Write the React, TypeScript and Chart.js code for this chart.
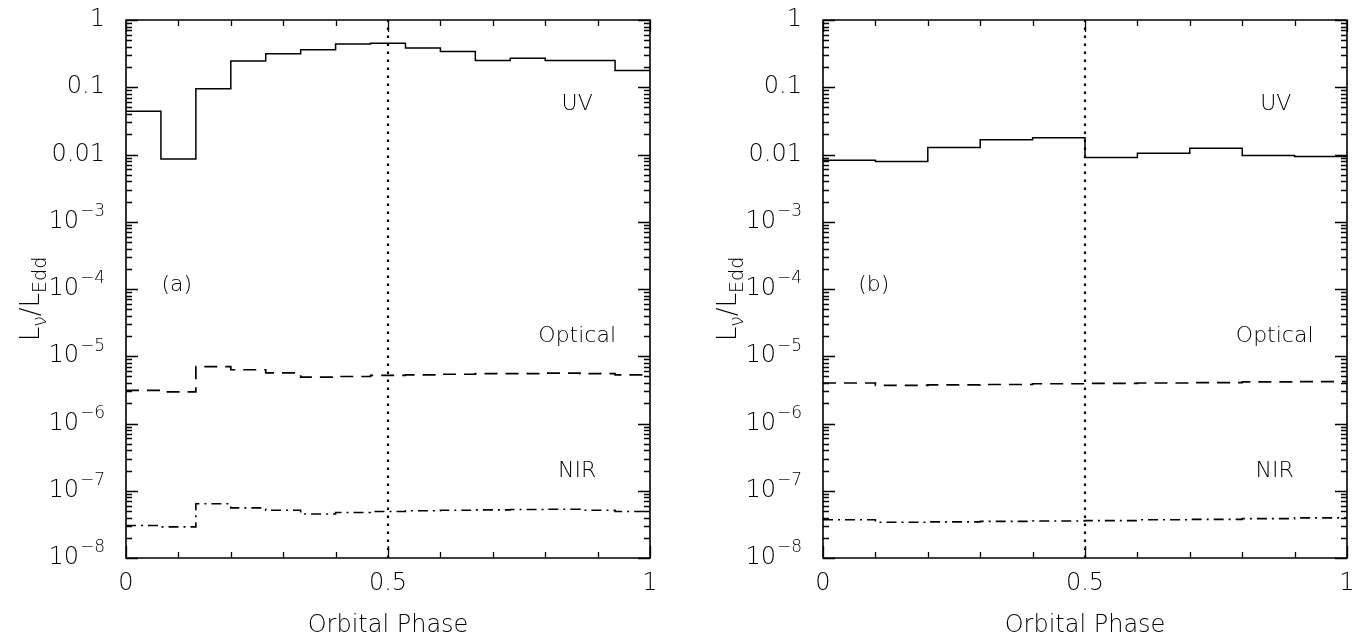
import React, { useEffect, useRef } from "react";
import { Chart, registerables } from "chart.js";

Chart.register(...registerables);

// ---------- data ----------
const binCountA = 15;
const binCountB = 10;

const uvA = [0.044, 0.0086, 0.095, 0.245, 0.315, 0.36, 0.44, 0.45, 0.385, 0.34, 0.25, 0.27, 0.25, 0.25, 0.178];
const opticalA = [3.1e-6, 2.95e-6, 7.0e-6, 6.3e-6, 5.65e-6, 4.9e-6, 5.0e-6, 5.2e-6, 5.3e-6, 5.4e-6, 5.5e-6, 5.5e-6, 5.6e-6, 5.5e-6, 5.3e-6];
const nirA = [3.05e-8, 2.9e-8, 6.4e-8, 5.57e-8, 5.14e-8, 4.5e-8, 4.75e-8, 4.92e-8, 5.03e-8, 5.14e-8, 5.2e-8, 5.26e-8, 5.3e-8, 5.14e-8, 4.92e-8];

const uvB = [0.0082, 0.0079, 0.0127, 0.0165, 0.0178, 0.009, 0.0104, 0.0124, 0.0097, 0.0093];
const opticalB = [4.0e-6, 3.7e-6, 3.75e-6, 3.8e-6, 3.9e-6, 3.95e-6, 4.0e-6, 4.05e-6, 4.15e-6, 4.2e-6];
const nirB = [3.7e-8, 3.4e-8, 3.45e-8, 3.5e-8, 3.55e-8, 3.6e-8, 3.7e-8, 3.75e-8, 3.85e-8, 3.95e-8];

const xTickValues = [0, 0.5, 1];
const xTickLabels = ["0", "0.5", "1"];
const xMinorTickValues = [0.1, 0.2, 0.3, 0.4, 0.6, 0.7, 0.8, 0.9];
const markerPhase = 0.5;

const yMin = 1e-8;
const yMax = 1;
const yTickValues = [1e-8, 1e-7, 1e-6, 1e-5, 1e-4, 1e-3, 0.01, 0.1, 1];
const yTickBases = ["10", "10", "10", "10", "10", "10", "0.01", "0.1", "1"];
const yTickExponents = ["\u22128", "\u22127", "\u22126", "\u22125", "\u22124", "\u22123", "", "", ""];

const bandLabels = ["UV", "Optical", "NIR"];
const panelTags = ["(a)", "(b)"];
const xTitle = "Orbital Phase";

// label anchor positions in data space (x phase, y value)
const bandLabelPosA = [
  { x: 0.861, y: 0.056 },
  { x: 0.861, y: 2.0e-5 },
  { x: 0.861, y: 1.97e-7 },
];
const bandLabelPosB = [
  { x: 0.864, y: 0.056 },
  { x: 0.862, y: 2.0e-5 },
  { x: 0.862, y: 1.97e-7 },
];
const tagPos = { x: 0.097, y: 1.15e-4 };

// ---------- styling ----------
const FONT = "'DejaVu Sans', sans-serif";
const WEIGHT = "300";
const FS = 22;
const FS_TICK = 24;
const FS_EXP = 17;
const FS_YT = 26;
const FS_YT_SUB = 19;

function binEdges(n: number): number[] {
  const e: number[] = [];
  for (let i = 0; i <= n; i++) e.push(i / n);
  return e;
}

function stepPoints(edges: number[], vals: number[]) {
  const pts = vals.map((v, i) => ({ x: edges[i], y: v }));
  pts.push({ x: edges[vals.length], y: vals[vals.length - 1] });
  return pts;
}

const framePlugin = {
  id: "frameTicks",
  afterDatasetsDraw(chart: any) {
    const { ctx, chartArea: a, scales } = chart;
    const xs = scales.x;
    const ys = scales.y;
    ctx.save();
    ctx.strokeStyle = "#000";
    ctx.lineWidth = 1.6;
    ctx.beginPath();
    ctx.rect(a.left, a.top, a.right - a.left, a.bottom - a.top);
    ctx.stroke();
    ctx.lineWidth = 1.3;
    ctx.beginPath();
    const major = 12;
    const minor = 6;
    const xt = [...xTickValues.map((v) => [v, major]), ...xMinorTickValues.map((v) => [v, minor])];
    for (const [v, len] of xt) {
      const px = Math.round(xs.getPixelForValue(v)) + 0.5;
      ctx.moveTo(px, a.bottom);
      ctx.lineTo(px, a.bottom - len);
      ctx.moveTo(px, a.top);
      ctx.lineTo(px, a.top + len);
    }
    for (let d = -8; d <= 0; d++) {
      for (let m = 1; m <= 9; m++) {
        const v = m * Math.pow(10, d);
        if (v > yMax * 1.0001) break;
        const py = Math.round(ys.getPixelForValue(v)) + 0.5;
        const len = m === 1 ? major : minor;
        ctx.moveTo(a.left, py);
        ctx.lineTo(a.left + len, py);
        ctx.moveTo(a.right, py);
        ctx.lineTo(a.right - len, py);
      }
    }
    ctx.stroke();
    ctx.restore();
  },
};

function makeTextPlugin(titleBaselineX: number, bandPos: { x: number; y: number }[], tag: string) {
  return {
    id: "texts",
    afterDraw(chart: any) {
      const { ctx, chartArea: a, scales } = chart;
      const xs = scales.x;
      const ys = scales.y;
      ctx.save();
      ctx.fillStyle = "#000";
      const big = `${WEIGHT} ${FS}px ${FONT}`;
      const tickF = `${WEIGHT} ${FS_TICK}px ${FONT}`;
      const expF = `${WEIGHT} ${FS_EXP}px ${FONT}`;
      // y tick labels
      ctx.textBaseline = "middle";
      ctx.textAlign = "left";
      const rightEdge = a.left - 21;
      yTickValues.forEach((v, i) => {
        const py = ys.getPixelForValue(v);
        const base = yTickBases[i];
        const exp = yTickExponents[i];
        ctx.font = tickF;
        const wb = ctx.measureText(base).width;
        ctx.font = expF;
        const we = exp ? ctx.measureText(exp).width + 1 : 0;
        const start = rightEdge - wb - we;
        ctx.font = tickF;
        ctx.fillText(base, start, py);
        if (exp) {
          ctx.font = expF;
          ctx.fillText(exp, start + wb + 1, py - 10);
        }
      });
      // band labels
      ctx.textAlign = "center";
      ctx.font = big;
      bandLabels.forEach((t, i) => {
        ctx.fillText(t, xs.getPixelForValue(bandPos[i].x), ys.getPixelForValue(bandPos[i].y));
      });
      ctx.fillText(tag, xs.getPixelForValue(tagPos.x), ys.getPixelForValue(tagPos.y));
      // y title L_nu / L_Edd rotated
      const cy = (a.top + a.bottom) / 2 + 10;
      ctx.translate(titleBaselineX, cy);
      ctx.rotate(-Math.PI / 2);
      ctx.textAlign = "left";
      ctx.textBaseline = "alphabetic";
      const yt = `${WEIGHT} ${FS_YT}px ${FONT}`;
      const ytSub = `${WEIGHT} ${FS_YT_SUB}px ${FONT}`;
      const parts: [string, boolean][] = [["L", false], ["\u03BD", true], ["/", false], ["L", false], ["Edd", true]];
      let total = 0;
      const widths = parts.map(([t, sub]) => {
        ctx.font = sub ? ytSub : yt;
        const w = ctx.measureText(t).width;
        total += w;
        return w;
      });
      let u = -total / 2;
      parts.forEach(([t, sub], i) => {
        ctx.font = sub ? ytSub : yt;
        ctx.fillText(t, u, sub ? 7 : 0);
        u += widths[i];
      });
      ctx.restore();
    },
  };
}

function buildChart(
  canvas: HTMLCanvasElement,
  bins: number,
  uv: number[],
  optical: number[],
  nir: number[],
  axisWidth: number,
  rightPad: number,
  titleX: number,
  bandPos: { x: number; y: number }[],
  tag: string
) {
  const edges = binEdges(bins);
  const base = { borderColor: "#000", pointRadius: 0, fill: false, tension: 0 };
  return new Chart(canvas, {
    type: "line",
    data: {
      datasets: [
        { ...base, label: bandLabels[0], data: stepPoints(edges, uv), stepped: true, borderWidth: 1.5 },
        { ...base, label: bandLabels[1], data: stepPoints(edges, optical), stepped: true, borderWidth: 1.7, borderDash: [13, 8] },
        { ...base, label: bandLabels[2], data: stepPoints(edges, nir), stepped: true, borderWidth: 1.6, borderDash: [10, 5, 2, 5] },
        {
          ...base,
          label: "phase",
          data: [
            { x: markerPhase, y: yMin },
            { x: markerPhase, y: yMax },
          ],
          borderWidth: 2.2,
          borderDash: [2.5, 5.5],
        },
      ],
    } as any,
    options: {
      responsive: false,
      animation: false,
      devicePixelRatio: 1,
      layout: { padding: { top: 20, right: rightPad, left: 0, bottom: 0 } },
      plugins: { legend: { display: false }, tooltip: { enabled: false } },
      scales: {
        x: {
          type: "linear",
          min: 0,
          max: 1,
          grid: { display: false },
          border: { display: false },
          afterBuildTicks: (s: any) => {
            s.ticks = xTickValues.map((v) => ({ value: v }));
          },
          afterFit: (s: any) => {
            s.height = 82;
          },
          ticks: {
            padding: 3,
            color: "#000",
            maxRotation: 0,
            autoSkip: false,
            font: { family: FONT, size: FS_TICK, weight: WEIGHT as any },
            callback: (_v: any, i: number) => xTickLabels[i],
          },
          title: {
            display: true,
            text: xTitle,
            color: "#000",
            font: { family: FONT, size: FS_TICK, weight: WEIGHT as any },
            padding: { top: 0, bottom: 0 },
          },
        },
        y: {
          type: "logarithmic",
          min: yMin,
          max: yMax,
          grid: { display: false },
          border: { display: false },
          ticks: { display: false },
          afterBuildTicks: (s: any) => {
            s.ticks = yTickValues.map((v) => ({ value: v }));
          },
          afterFit: (s: any) => {
            s.width = axisWidth;
          },
        },
      },
    } as any,
    plugins: [framePlugin, makeTextPlugin(titleX, bandPos, tag)],
  });
}

export default function App() {
  const leftRef = useRef<HTMLCanvasElement>(null);
  const rightRef = useRef<HTMLCanvasElement>(null);

  useEffect(() => {
    const c1 = buildChart(leftRef.current!, binCountA, uvA, opticalA, nirA, 126, 33, 39, bandLabelPosA, panelTags[0]);
    const c2 = buildChart(rightRef.current!, binCountB, uvB, opticalB, nirB, 140, 19, 53, bandLabelPosB, panelTags[1]);
    return () => {
      c1.destroy();
      c2.destroy();
    };
  }, []);

  return (
    <div style={{ position: "absolute", left: 0, top: 0, width: 1366, height: 640, background: "#fff" }}>
      <canvas ref={leftRef} width={683} height={640} style={{ position: "absolute", left: 0, top: 0, width: 683, height: 640 }} />
      <canvas ref={rightRef} width={683} height={640} style={{ position: "absolute", left: 683, top: 0, width: 683, height: 640 }} />
    </div>
  );
}
